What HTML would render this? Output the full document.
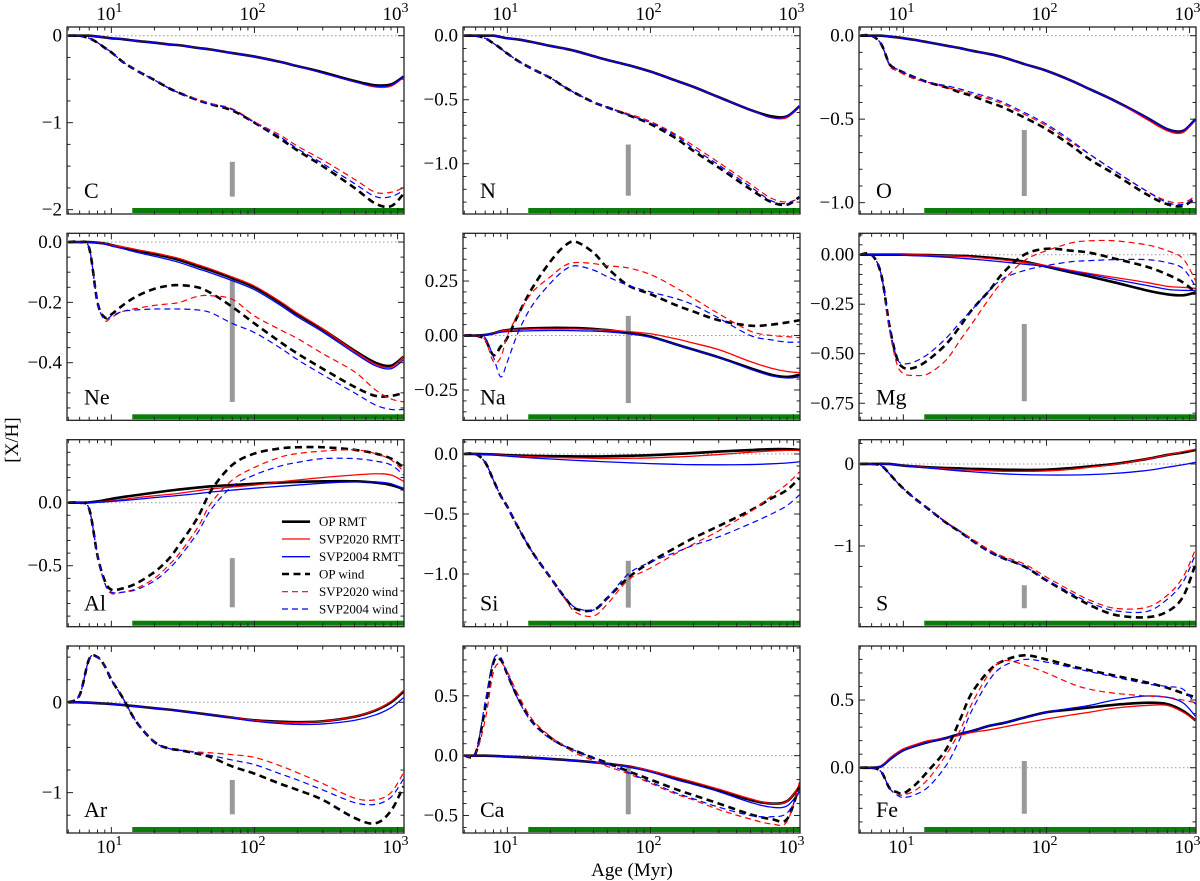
<!DOCTYPE html>
<html><head><meta charset="utf-8">
<style>
html,body{margin:0;padding:0;background:#fff;}
svg{display:block;font-family:"Liberation Serif","Times New Roman",serif;}
svg text{font-family:"Liberation Serif","Times New Roman",serif;}
</style></head>
<body>
<svg id="fig" width="1200" height="881" viewBox="0 0 1200 881" xmlns="http://www.w3.org/2000/svg" font-family="Liberation Serif, serif"></svg>
<script>
// ---- data ----
const ages = [5,6,7,8,9,10,12,15,20,25,30,40,50,70,100,150,200,300,500,700,900,1100];
const seriesNames = ["OP RMT","SVP2020 RMT","SVP2004 RMT","OP wind","SVP2020 wind","SVP2004 wind"];
const elements = ["C","N","O","Ne","Na","Mg","Al","Si","S","Ar","Ca","Fe"];
const yDomains = [[-2.05,0.10],[-1.393,0.068],[-1.068,0.052],[-0.591,0.029],[-0.389,0.469],[-0.836,0.108],[-0.984,0.5],[-1.439,0.119],[-1.985,0.296],[-1.447,0.623],[-0.646,0.916],[-0.482,0.899]];
const yTicks = [[0,-1,-2],[0,-0.5,-1],[0,-0.5,-1],[0,-0.2,-0.4],[0.25,0,-0.25],[0,-0.25,-0.5,-0.75],[0,-0.5],[0,-0.5,-1],[0,-1],[0,-1],[0.5,0,-0.5],[0,0.5]];
const yTickLabels = [["0","−1","−2"],["0.0","−0.5","−1.0"],["0.0","−0.5","−1.0"],["0.0","−0.2","−0.4"],["0.25","0.00","−0.25"],["0.00","−0.25","−0.50","−0.75"],["0.0","−0.5"],["0.0","−0.5","−1.0"],["0","−1"],["0","−1"],["0.5","0.0","−0.5"],["0.0","0.5"]];
const grayBarAge = 70;
const grayBars = [[-1.45,-1.85],[-0.85,-1.25],[-0.565,-0.96],[-0.125,-0.53],[0.09,-0.31],[-0.35,-0.74],[-0.44,-0.83],[-0.89,-1.28],[-1.48,-1.76],[-0.86,-1.24],[-0.1,-0.49],[0.05,-0.34]];
const greenStart = 14, greenEnd = 1100;

const C_opr=[0,0,0,-0.01,-0.02,-0.03,-0.04,-0.06,-0.08,-0.1,-0.11,-0.14,-0.16,-0.2,-0.24,-0.3,-0.35,-0.42,-0.52,-0.57,-0.56,-0.47];
const C_s20r=[0,0,0,-0.01,-0.02,-0.03,-0.04,-0.06,-0.08,-0.1,-0.11,-0.14,-0.16,-0.2,-0.24,-0.3,-0.35,-0.43,-0.53,-0.59,-0.58,-0.48];
const C_s04r=[0,0,0,-0.01,-0.02,-0.03,-0.04,-0.06,-0.08,-0.1,-0.11,-0.14,-0.16,-0.2,-0.24,-0.3,-0.35,-0.43,-0.53,-0.58,-0.57,-0.47];
const C_opw=[0,0,-0.03,-0.08,-0.14,-0.19,-0.3,-0.4,-0.51,-0.6,-0.66,-0.74,-0.79,-0.86,-1.0,-1.18,-1.32,-1.5,-1.75,-1.93,-1.96,-1.82];
const C_s20w=[0,0,-0.03,-0.08,-0.14,-0.19,-0.3,-0.4,-0.51,-0.6,-0.66,-0.73,-0.78,-0.84,-0.99,-1.14,-1.27,-1.43,-1.65,-1.8,-1.8,-1.75];
const C_s04w=[0,0,-0.03,-0.08,-0.14,-0.19,-0.3,-0.4,-0.51,-0.6,-0.66,-0.74,-0.79,-0.85,-1.0,-1.16,-1.3,-1.47,-1.7,-1.85,-1.85,-1.78];

const N_opr=[0,0,0,0,-0.01,-0.02,-0.03,-0.05,-0.08,-0.1,-0.12,-0.16,-0.19,-0.23,-0.28,-0.35,-0.4,-0.48,-0.58,-0.63,-0.63,-0.55];
const N_s20r=[0,0,0,0,-0.01,-0.02,-0.03,-0.05,-0.08,-0.1,-0.12,-0.16,-0.19,-0.23,-0.28,-0.35,-0.4,-0.48,-0.58,-0.64,-0.64,-0.55];
const N_s04r=[0,0,0,0,-0.01,-0.02,-0.03,-0.05,-0.08,-0.1,-0.12,-0.16,-0.19,-0.23,-0.28,-0.35,-0.4,-0.48,-0.58,-0.64,-0.63,-0.55];
const N_opw=[0,0,-0.02,-0.06,-0.1,-0.14,-0.2,-0.26,-0.33,-0.4,-0.45,-0.52,-0.56,-0.62,-0.69,-0.8,-0.9,-1.03,-1.2,-1.3,-1.32,-1.26];
const N_s20w=[0,0,-0.02,-0.06,-0.1,-0.14,-0.2,-0.26,-0.33,-0.4,-0.45,-0.52,-0.56,-0.61,-0.67,-0.77,-0.86,-0.99,-1.16,-1.27,-1.3,-1.27];
const N_s04w=[0,0,-0.02,-0.06,-0.1,-0.14,-0.2,-0.26,-0.33,-0.4,-0.45,-0.52,-0.56,-0.62,-0.68,-0.78,-0.88,-1.01,-1.18,-1.29,-1.31,-1.26];

const O_opr=[0,0,0,-0.005,-0.01,-0.015,-0.025,-0.04,-0.06,-0.075,-0.09,-0.11,-0.13,-0.17,-0.21,-0.27,-0.32,-0.39,-0.49,-0.56,-0.57,-0.5];
const O_s20r=[0,0,0,-0.005,-0.01,-0.015,-0.025,-0.04,-0.06,-0.075,-0.09,-0.11,-0.13,-0.17,-0.21,-0.27,-0.32,-0.39,-0.5,-0.57,-0.58,-0.5];
const O_s04r=[0,0,0,-0.005,-0.01,-0.015,-0.025,-0.04,-0.06,-0.075,-0.09,-0.11,-0.13,-0.17,-0.21,-0.27,-0.32,-0.39,-0.49,-0.56,-0.57,-0.5];
const O_opw=[0,0,-0.05,-0.17,-0.2,-0.22,-0.25,-0.28,-0.31,-0.34,-0.36,-0.4,-0.43,-0.49,-0.56,-0.66,-0.74,-0.83,-0.95,-1.01,-1.02,-0.97];
const O_s20w=[0,0,-0.05,-0.18,-0.21,-0.23,-0.26,-0.28,-0.31,-0.33,-0.35,-0.38,-0.41,-0.47,-0.54,-0.64,-0.71,-0.81,-0.93,-0.99,-1.0,-0.96];
const O_s04w=[0,0,-0.05,-0.17,-0.2,-0.22,-0.25,-0.28,-0.3,-0.32,-0.34,-0.37,-0.4,-0.46,-0.53,-0.63,-0.71,-0.81,-0.93,-1.0,-1.01,-0.97];

const Ne_opr=[0,0,0,-0.002,-0.005,-0.01,-0.018,-0.028,-0.04,-0.05,-0.06,-0.08,-0.095,-0.12,-0.15,-0.2,-0.24,-0.29,-0.36,-0.4,-0.41,-0.38];
const Ne_s20r=[0,0,0,-0.002,-0.005,-0.01,-0.016,-0.025,-0.036,-0.046,-0.055,-0.075,-0.09,-0.116,-0.146,-0.196,-0.236,-0.288,-0.362,-0.405,-0.415,-0.38];
const Ne_s04r=[0,0,0,-0.003,-0.007,-0.013,-0.022,-0.034,-0.047,-0.058,-0.068,-0.088,-0.103,-0.128,-0.158,-0.208,-0.248,-0.298,-0.368,-0.41,-0.42,-0.39];
const Ne_opw=[0,0,-0.02,-0.2,-0.25,-0.24,-0.21,-0.18,-0.155,-0.145,-0.143,-0.15,-0.17,-0.215,-0.27,-0.33,-0.37,-0.42,-0.48,-0.51,-0.51,-0.5];
const Ne_s20w=[0,0,-0.02,-0.2,-0.26,-0.25,-0.23,-0.22,-0.21,-0.205,-0.2,-0.18,-0.178,-0.19,-0.245,-0.29,-0.32,-0.37,-0.43,-0.49,-0.52,-0.53];
const Ne_s04w=[0,0,-0.02,-0.2,-0.255,-0.245,-0.23,-0.225,-0.222,-0.222,-0.222,-0.225,-0.235,-0.27,-0.3,-0.35,-0.39,-0.44,-0.5,-0.54,-0.555,-0.555];

const Na_opr=[0,0,0.003,0.01,0.02,0.025,0.03,0.033,0.035,0.035,0.034,0.03,0.025,0.012,-0.005,-0.04,-0.065,-0.1,-0.15,-0.18,-0.19,-0.18];
const Na_s20r=[0,0,0.003,0.01,0.02,0.025,0.028,0.03,0.03,0.03,0.03,0.028,0.025,0.018,0.008,-0.015,-0.035,-0.065,-0.12,-0.15,-0.165,-0.17];
const Na_s04r=[0,0,0.002,0.008,0.015,0.018,0.02,0.022,0.023,0.023,0.022,0.02,0.017,0.008,-0.008,-0.04,-0.065,-0.1,-0.155,-0.185,-0.195,-0.19];
const Na_opw=[0,0,-0.02,-0.09,-0.05,-0.01,0.1,0.22,0.34,0.41,0.43,0.38,0.31,0.23,0.19,0.14,0.11,0.07,0.045,0.05,0.06,0.07];
const Na_s20w=[0,0,-0.02,-0.12,-0.1,0.0,0.1,0.2,0.27,0.32,0.335,0.33,0.32,0.31,0.28,0.22,0.17,0.1,0.02,0.0,-0.005,-0.01];
const Na_s04w=[0,0,-0.01,-0.1,-0.19,-0.12,0.02,0.14,0.24,0.3,0.32,0.3,0.27,0.23,0.2,0.17,0.14,0.08,0.0,-0.02,-0.03,-0.03];

const Mg_opr=[0,0,0,0,0,0,-0.001,-0.002,-0.004,-0.006,-0.008,-0.015,-0.022,-0.035,-0.06,-0.09,-0.11,-0.14,-0.18,-0.2,-0.205,-0.19];
const Mg_s20r=[0,0,0,0,0,0,-0.001,-0.002,-0.005,-0.008,-0.012,-0.02,-0.027,-0.04,-0.055,-0.08,-0.095,-0.115,-0.14,-0.16,-0.165,-0.17];
const Mg_s04r=[0,0,0,0,0,-0.002,-0.005,-0.008,-0.013,-0.018,-0.022,-0.03,-0.037,-0.048,-0.06,-0.085,-0.1,-0.125,-0.155,-0.175,-0.18,-0.18];
const Mg_opw=[0,0,-0.1,-0.36,-0.52,-0.57,-0.57,-0.53,-0.45,-0.36,-0.28,-0.18,-0.09,0.0,0.03,0.02,0.01,-0.02,-0.06,-0.1,-0.14,-0.19];
const Mg_s20w=[0,0,-0.1,-0.38,-0.55,-0.6,-0.61,-0.6,-0.53,-0.43,-0.35,-0.22,-0.13,-0.03,0.02,0.06,0.07,0.07,0.05,0.02,-0.02,-0.13];
const Mg_s04w=[0,0,-0.1,-0.36,-0.52,-0.55,-0.54,-0.5,-0.42,-0.34,-0.28,-0.18,-0.12,-0.08,-0.055,-0.035,-0.03,-0.025,-0.025,-0.04,-0.07,-0.16];

const Al_opr=[0,0,0.002,0.01,0.02,0.03,0.045,0.06,0.08,0.095,0.105,0.12,0.13,0.14,0.15,0.16,0.165,0.17,0.17,0.16,0.14,0.11];
const Al_s20r=[0,0,0,0.005,0.01,0.015,0.025,0.04,0.055,0.065,0.075,0.095,0.11,0.125,0.14,0.165,0.18,0.2,0.22,0.23,0.22,0.17];
const Al_s04r=[0,0,0,0.003,0.006,0.01,0.017,0.027,0.04,0.05,0.058,0.072,0.085,0.1,0.115,0.13,0.14,0.155,0.165,0.165,0.15,0.11];
const Al_opw=[0,0,-0.05,-0.42,-0.62,-0.69,-0.68,-0.64,-0.55,-0.45,-0.33,-0.12,0.1,0.3,0.39,0.43,0.44,0.44,0.42,0.39,0.35,0.28];
const Al_s20w=[0,0,-0.05,-0.42,-0.64,-0.72,-0.71,-0.68,-0.6,-0.5,-0.4,-0.2,0.0,0.18,0.28,0.36,0.39,0.41,0.42,0.39,0.34,0.25];
const Al_s04w=[0,0,-0.05,-0.42,-0.64,-0.71,-0.71,-0.69,-0.62,-0.53,-0.43,-0.24,-0.05,0.13,0.22,0.29,0.32,0.35,0.35,0.33,0.3,0.22];

const Si_opr=[0,0,-0.002,-0.004,-0.007,-0.01,-0.013,-0.016,-0.018,-0.019,-0.02,-0.02,-0.019,-0.015,-0.01,0.0,0.008,0.02,0.033,0.04,0.04,0.035];
const Si_s20r=[0,0,-0.002,-0.005,-0.009,-0.013,-0.018,-0.023,-0.028,-0.031,-0.033,-0.036,-0.037,-0.036,-0.033,-0.025,-0.018,-0.005,0.015,0.025,0.03,0.03];
const Si_s04r=[0,0,-0.003,-0.008,-0.013,-0.018,-0.025,-0.033,-0.042,-0.048,-0.053,-0.06,-0.066,-0.073,-0.08,-0.086,-0.089,-0.09,-0.088,-0.082,-0.075,-0.065];
const Si_opw=[0,0,-0.07,-0.22,-0.35,-0.44,-0.62,-0.82,-1.03,-1.19,-1.29,-1.3,-1.2,-1.03,-0.9,-0.78,-0.7,-0.6,-0.47,-0.37,-0.3,-0.2];
const Si_s20w=[0,0,-0.07,-0.22,-0.35,-0.44,-0.62,-0.82,-1.03,-1.2,-1.32,-1.35,-1.25,-1.05,-0.95,-0.83,-0.75,-0.64,-0.48,-0.35,-0.25,-0.15];
const Si_s04w=[0,0,-0.07,-0.22,-0.35,-0.44,-0.62,-0.82,-1.03,-1.19,-1.28,-1.3,-1.2,-1.0,-0.9,-0.82,-0.76,-0.69,-0.58,-0.5,-0.43,-0.34];

const S_opr=[0,0,0.002,0,-0.01,-0.02,-0.03,-0.04,-0.05,-0.055,-0.06,-0.065,-0.07,-0.072,-0.07,-0.05,-0.03,0.0,0.06,0.11,0.14,0.17];
const S_s20r=[0,0,0.002,0,-0.01,-0.02,-0.03,-0.045,-0.06,-0.07,-0.075,-0.085,-0.09,-0.09,-0.085,-0.065,-0.04,-0.005,0.06,0.11,0.15,0.18];
const S_s04r=[0,0,0.002,0,-0.01,-0.02,-0.035,-0.05,-0.07,-0.085,-0.095,-0.11,-0.12,-0.13,-0.135,-0.135,-0.13,-0.115,-0.08,-0.04,-0.01,0.02];
const S_opw=[0,0,-0.02,-0.12,-0.22,-0.3,-0.42,-0.55,-0.72,-0.83,-0.93,-1.07,-1.15,-1.25,-1.42,-1.6,-1.72,-1.84,-1.87,-1.8,-1.62,-1.22];
const S_s20w=[0,0,-0.02,-0.12,-0.22,-0.3,-0.42,-0.55,-0.71,-0.82,-0.91,-1.05,-1.13,-1.22,-1.38,-1.55,-1.66,-1.76,-1.75,-1.6,-1.38,-1.04];
const S_s04w=[0,0,-0.02,-0.12,-0.22,-0.3,-0.42,-0.55,-0.72,-0.83,-0.93,-1.07,-1.15,-1.25,-1.41,-1.58,-1.69,-1.79,-1.8,-1.65,-1.44,-1.1];

const Ar_opr=[0,0,-0.005,-0.01,-0.015,-0.02,-0.03,-0.045,-0.065,-0.08,-0.095,-0.12,-0.14,-0.17,-0.2,-0.215,-0.22,-0.21,-0.16,-0.09,0.0,0.12];
const Ar_s20r=[0,0,-0.005,-0.01,-0.015,-0.02,-0.03,-0.045,-0.065,-0.08,-0.095,-0.12,-0.14,-0.17,-0.2,-0.22,-0.225,-0.21,-0.16,-0.085,0.01,0.13];
const Ar_s04r=[0,0,-0.005,-0.01,-0.015,-0.02,-0.03,-0.045,-0.065,-0.08,-0.095,-0.12,-0.14,-0.175,-0.21,-0.235,-0.245,-0.24,-0.2,-0.14,-0.06,0.05];
const Ar_opw=[0,0.08,0.48,0.5,0.4,0.25,0.05,-0.22,-0.44,-0.51,-0.53,-0.57,-0.61,-0.71,-0.79,-0.9,-0.97,-1.08,-1.28,-1.34,-1.2,-0.93];
const Ar_s20w=[0,0.08,0.48,0.5,0.4,0.25,0.05,-0.22,-0.44,-0.51,-0.53,-0.55,-0.56,-0.58,-0.61,-0.7,-0.78,-0.9,-1.06,-1.08,-1.0,-0.78];
const Ar_s04w=[0,0.08,0.48,0.5,0.4,0.25,0.05,-0.22,-0.44,-0.51,-0.53,-0.56,-0.59,-0.64,-0.69,-0.79,-0.86,-0.97,-1.11,-1.13,-1.05,-0.85];

const Ca_opr=[0,0,0,-0.002,-0.005,-0.008,-0.012,-0.018,-0.027,-0.035,-0.042,-0.055,-0.068,-0.09,-0.13,-0.19,-0.23,-0.29,-0.37,-0.4,-0.38,-0.26];
const Ca_s20r=[0,0,0,-0.002,-0.005,-0.008,-0.012,-0.018,-0.027,-0.035,-0.042,-0.055,-0.068,-0.09,-0.125,-0.18,-0.22,-0.28,-0.36,-0.4,-0.38,-0.25];
const Ca_s04r=[0,0,0,-0.002,-0.005,-0.008,-0.012,-0.018,-0.027,-0.035,-0.042,-0.056,-0.07,-0.095,-0.135,-0.2,-0.24,-0.3,-0.39,-0.43,-0.42,-0.3];
const Ca_opw=[0,0.02,0.4,0.78,0.8,0.68,0.47,0.28,0.15,0.08,0.04,-0.02,-0.06,-0.13,-0.2,-0.28,-0.33,-0.4,-0.49,-0.53,-0.53,-0.25];
const Ca_s20w=[0,0.02,0.3,0.7,0.77,0.7,0.5,0.3,0.16,0.08,0.02,-0.04,-0.09,-0.15,-0.23,-0.32,-0.37,-0.45,-0.53,-0.57,-0.55,-0.22];
const Ca_s04w=[0,0.02,0.45,0.8,0.82,0.68,0.46,0.27,0.14,0.08,0.04,-0.02,-0.07,-0.14,-0.22,-0.31,-0.36,-0.43,-0.5,-0.51,-0.48,-0.3];

const Fe_opr=[0,0,0.01,0.06,0.1,0.13,0.16,0.19,0.22,0.25,0.27,0.31,0.33,0.37,0.41,0.43,0.445,0.465,0.48,0.47,0.42,0.35];
const Fe_s20r=[0,0,0.01,0.07,0.11,0.14,0.17,0.2,0.22,0.24,0.26,0.28,0.3,0.33,0.36,0.39,0.41,0.44,0.46,0.46,0.41,0.35];
const Fe_s04r=[0,0,0.01,0.06,0.1,0.13,0.16,0.19,0.22,0.25,0.27,0.31,0.33,0.37,0.41,0.44,0.46,0.5,0.53,0.52,0.48,0.38];
const Fe_opw=[0,0,-0.03,-0.15,-0.18,-0.19,-0.13,-0.02,0.14,0.36,0.55,0.72,0.79,0.83,0.8,0.75,0.72,0.68,0.63,0.59,0.55,0.52];
const Fe_s20w=[0,0,-0.03,-0.15,-0.2,-0.2,-0.17,-0.08,0.1,0.28,0.47,0.7,0.79,0.76,0.7,0.62,0.58,0.55,0.53,0.52,0.5,0.48];
const Fe_s04w=[0,0,-0.03,-0.15,-0.2,-0.22,-0.2,-0.14,0.02,0.22,0.42,0.65,0.75,0.8,0.78,0.74,0.71,0.67,0.62,0.6,0.58,0.47];

const panelSeries = [
 [C_opr,C_s20r,C_s04r,C_opw,C_s20w,C_s04w],
 [N_opr,N_s20r,N_s04r,N_opw,N_s20w,N_s04w],
 [O_opr,O_s20r,O_s04r,O_opw,O_s20w,O_s04w],
 [Ne_opr,Ne_s20r,Ne_s04r,Ne_opw,Ne_s20w,Ne_s04w],
 [Na_opr,Na_s20r,Na_s04r,Na_opw,Na_s20w,Na_s04w],
 [Mg_opr,Mg_s20r,Mg_s04r,Mg_opw,Mg_s20w,Mg_s04w],
 [Al_opr,Al_s20r,Al_s04r,Al_opw,Al_s20w,Al_s04w],
 [Si_opr,Si_s20r,Si_s04r,Si_opw,Si_s20w,Si_s04w],
 [S_opr,S_s20r,S_s04r,S_opw,S_s20w,S_s04w],
 [Ar_opr,Ar_s20r,Ar_s04r,Ar_opw,Ar_s20w,Ar_s04w],
 [Ca_opr,Ca_s20r,Ca_s04r,Ca_opw,Ca_s20w,Ca_s04w],
 [Fe_opr,Fe_s20r,Fe_s04r,Fe_opw,Fe_s20w,Fe_s04w]
];

// ---- layout ----
const NS = "http://www.w3.org/2000/svg";
const svg = document.getElementById('fig');
const colL = [67,463,859], rowT = [27,233.3,439.7,646];
const PW = 337, PH = 187;
const LMIN = 0.69, LMAX = 3.045;
const styles = [
 {c:"#000",w:2.6,d:null},{c:"#f00",w:1.3,d:null},{c:"#00f",w:1.3,d:null},
 {c:"#000",w:2.6,d:"7,4.5"},{c:"#f00",w:1.2,d:"6,4"},{c:"#00f",w:1.2,d:"6,4"}
];
function el(tag, attrs, parent){const e=document.createElementNS(NS,tag);for(const k in attrs)e.setAttribute(k,attrs[k]);(parent||svg).appendChild(e);return e;}
function smoothPath(pts){
  let d="M"+pts[0][0].toFixed(2)+","+pts[0][1].toFixed(2);
  for(let i=0;i<pts.length-1;i++){
    const p0=pts[Math.max(0,i-1)],p1=pts[i],p2=pts[i+1],p3=pts[Math.min(pts.length-1,i+2)];
    const c1x=p1[0]+(p2[0]-p0[0])/6,c1y=p1[1]+(p2[1]-p0[1])/6;
    const c2x=p2[0]-(p3[0]-p1[0])/6,c2y=p2[1]-(p3[1]-p1[1])/6;
    d+=" C"+c1x.toFixed(2)+","+c1y.toFixed(2)+" "+c2x.toFixed(2)+","+c2y.toFixed(2)+" "+p2[0].toFixed(2)+","+p2[1].toFixed(2);
  }
  return d;
}
function addExpLabel(g,x,y,exp,name){
  const t=el('text',{x:x,y:y,'font-size':19,'text-anchor':'middle'},g);
  
  
  t.appendChild(document.createTextNode("10"));
  const s=el('tspan',{dy:-8,'font-size':14},t);
  s.textContent=exp;
}

elements.forEach((elem,pi)=>{
  const L=colL[pi%3], T=rowT[Math.floor(pi/3)], row=Math.floor(pi/3);
  const [y0,y1]=yDomains[pi];
  const xs=t=>L+(Math.log10(t)-LMIN)/(LMAX-LMIN)*PW;
  const ys=v=>T+(y1-v)/(y1-y0)*PH;
  const g=el('g',{});
  
  
  const clipId='clip'+pi;
  const cp=el('clipPath',{id:clipId},g); el('rect',{x:L,y:T,width:PW,height:PH},cp);
  const z=el('line',{x1:L,x2:L+PW,y1:ys(0),y2:ys(0),stroke:"#999","stroke-width":1,"stroke-dasharray":"1.5,2.5"},g);
  
  
  const gb=el('rect',{x:xs(greenStart),y:T+PH-6,width:xs(greenEnd)-xs(greenStart),height:5,fill:"#0a7d0a"},g);
  
  
  const gr=grayBars[pi];
  const gy=el('rect',{x:xs(grayBarAge)-2.5,y:ys(gr[0]),width:5,height:ys(gr[1])-ys(gr[0]),fill:"#999"},g);
  
  
  const cg=el('g',{'clip-path':'url(#'+clipId+')'},g);
  panelSeries[pi].forEach((vals,si)=>{
    const pts=ages.map((a,i)=>[xs(a),ys(vals[i])]);
    const st=styles[si];
    const p=el('path',{d:smoothPath(pts),fill:"none",stroke:st.c,"stroke-width":st.w,"stroke-linejoin":"round"},cg);
    if(st.d)p.setAttribute("stroke-dasharray",st.d);
    
    
  });
  const fr=el('rect',{x:L,y:T,width:PW,height:PH,fill:"none",stroke:"#222","stroke-width":1.3},g);
  
  
  for(let e=0;e<=3;e++){for(let m=1;m<=9;m++){
    const t=m*Math.pow(10,e); const lt=Math.log10(t); if(lt<LMIN||lt>LMAX)continue;
    const x=xs(t), len=(m===1)?6:3.5;
    el('line',{x1:x,x2:x,y1:T+PH,y2:T+PH-len,stroke:"#222","stroke-width":1},g);
    el('line',{x1:x,x2:x,y1:T,y2:T+len,stroke:"#222","stroke-width":1},g);
  }}
  const tk=yTicks[pi]; const step=Math.abs(tk[0]-tk[1]);
  const mstep=(step===1)?0.25:(step===0.5?0.1:0.05);
  for(let v=Math.ceil(y0/mstep)*mstep; v<=y1+1e-9; v+=mstep){
    const y=ys(v); const isMaj=tk.some(t=>Math.abs(t-v)<1e-6); const len=isMaj?6:3.5;
    el('line',{x1:L,x2:L+len,y1:y,y2:y,stroke:"#222","stroke-width":1},g);
    el('line',{x1:L+PW,x2:L+PW-len,y1:y,y2:y,stroke:"#222","stroke-width":1},g);
  }
  tk.forEach((v,i)=>{
    const t=el('text',{x:L-5,y:ys(v)+6,'font-size':19,'text-anchor':'end'},g);
    t.textContent=yTickLabels[pi][i];
    
    
  });
  if(row===0){ [1,2,3].forEach(e=>addExpLabel(g,xs(Math.pow(10,e))-2,T-7,String(e),'x-top-tick-label')); }
  if(row===3){ [1,2,3].forEach(e=>addExpLabel(g,xs(Math.pow(10,e))-2,T+PH+20,String(e),'x-tick-label')); }
  const lab=el('text',{x:L+17,y:T+PH-16,'font-size':22},g);
  lab.textContent=elem;
  
  
});

const lg=el('g',{});


const legY=[521.7,539,556.7,574,591.7,609];
seriesNames.forEach((n,i)=>{
  const st=styles[i];
  const ln=el('line',{x1:282,x2:310,y1:legY[i],y2:legY[i],stroke:st.c,"stroke-width":st.w},lg);
  if(st.d)ln.setAttribute("stroke-dasharray",st.d);
  
  
  const t=el('text',{x:319,y:legY[i]+4.5,'font-size':13},lg);
  t.textContent=n;
  
  
});

const xt=el('text',{x:632,y:876,'font-size':19,'text-anchor':'middle'});
xt.textContent="Age (Myr)";


const yt=el('text',{x:0,y:0,'font-size':19,'text-anchor':'middle',transform:'translate(18,440) rotate(-90)'});
yt.textContent="[X/H]";


</script>
</body></html>
